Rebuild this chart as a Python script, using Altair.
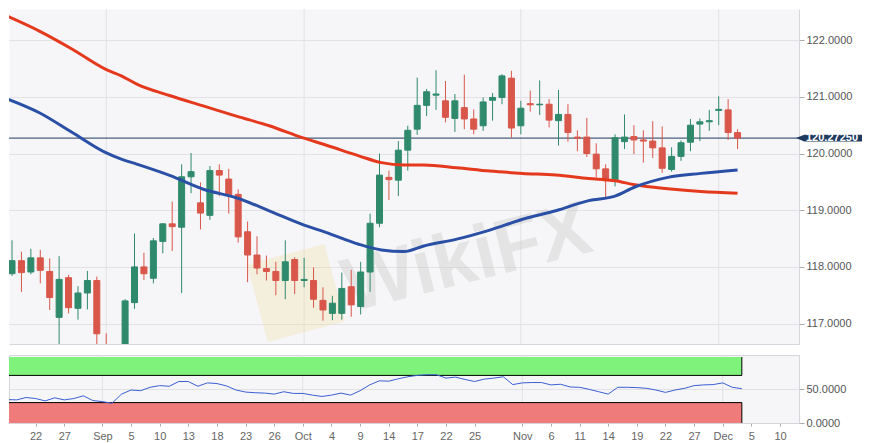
import json
import altair as alt
import pandas as pd

# ---------------- data ----------------
idx = list(range(78))
opens = [117.88, 118.11, 117.91, 118.16, 117.92, 117.11, 117.81, 117.27, 117.54, 117.76,
         116.60, 116.35, 116.45, 117.37, 118.00, 117.80, 118.45, 118.76, 118.70, 119.59,
         119.13, 118.91, 119.70, 119.55, 119.28, 118.62, 118.21, 117.97, 117.92, 117.76,
         118.13, 117.76, 117.76, 117.41, 117.18, 117.18, 117.65, 117.30, 117.91, 118.77,
         119.58, 119.53, 120.06, 120.43, 120.85, 121.03, 120.93, 120.62, 120.81, 120.61,
         120.49, 120.94, 120.99, 121.33, 120.49, 120.88, 120.86, 120.87, 120.58, 120.69,
         120.29, 120.29, 119.99, 119.73, 119.51, 120.21, 120.30, 120.24, 120.22, 120.10,
         119.72, 119.95, 120.20, 120.52, 120.56, 120.76, 120.77, 120.37]
highs = [118.47, 118.27, 118.32, 118.30, 118.15, 118.19, 117.86, 117.66, 117.93, 117.83,
         116.83, 116.55, 117.43, 118.59, 118.25, 118.51, 118.77, 119.15, 119.81, 120.01,
         119.49, 119.78, 119.81, 119.73, 119.37, 118.80, 118.54, 118.20, 118.09, 118.47,
         118.17, 118.16, 117.99, 117.64, 117.49, 117.90, 117.95, 118.09, 118.94, 120.00,
         119.70, 120.22, 120.49, 121.34, 121.14, 121.47, 121.28, 121.05, 121.39, 120.78,
         120.99, 121.07, 121.40, 121.46, 120.93, 121.11, 121.29, 120.96, 121.12, 120.87,
         120.41, 120.63, 120.18, 119.81, 120.34, 120.69, 120.50, 120.41, 120.57, 120.48,
         120.11, 120.23, 120.61, 120.62, 120.77, 121.01, 120.96, 120.43]
lows = [117.84, 117.56, 117.87, 117.71, 117.24, 116.55, 117.18, 117.07, 117.25, 116.50,
        116.20, 116.05, 116.40, 117.26, 117.77, 117.71, 118.24, 118.28, 117.54, 119.30,
        118.66, 118.83, 119.25, 118.94, 118.43, 117.73, 117.87, 117.76, 117.50, 117.43,
        117.52, 117.64, 117.28, 117.05, 117.06, 117.07, 117.12, 117.16, 117.56, 118.70,
        119.18, 119.25, 119.70, 120.33, 120.66, 120.77, 120.55, 120.38, 120.43, 120.34,
        120.40, 120.58, 120.87, 120.28, 120.34, 120.74, 120.68, 120.46, 120.14, 120.21,
        120.04, 119.94, 119.58, 119.23, 119.42, 120.08, 119.99, 119.84, 119.92, 119.66,
        119.68, 119.87, 120.04, 120.22, 120.40, 120.50, 120.24, 120.08]
closes = [118.11, 117.90, 118.16, 117.94, 117.46, 117.78, 117.28, 117.54, 117.76, 116.82,
          116.30, 116.40, 117.40, 118.00, 117.88, 118.46, 118.76, 118.71, 119.59, 119.68,
          118.95, 119.70, 119.62, 119.27, 118.53, 118.21, 117.98, 117.92, 117.76, 118.09,
          117.76, 117.78, 117.43, 117.24, 117.36, 117.62, 117.33, 117.91, 118.77, 119.62,
          119.54, 120.06, 120.41, 120.85, 121.09, 121.05, 120.64, 120.93, 120.61, 120.43,
          120.91, 120.99, 121.37, 120.45, 120.80, 120.86, 120.87, 120.59, 120.69, 120.37,
          120.27, 120.00, 119.73, 119.52, 120.28, 120.29, 120.24, 120.22, 120.10, 119.74,
          119.95, 120.19, 120.50, 120.56, 120.58, 120.78, 120.37, 120.2725]

# moving averages, sampled along the curves
ma_idx = [-0.6, 2.9, 6.4, 9.9, 11.6, 13.3, 16.8, 20.3, 23.8, 27.3, 30.8, 33.3, 36.8,
          39.2, 41.6, 43.7, 47.2, 50.7, 54.2, 57.7, 61.2, 64.0, 66.1, 69.6, 73.1, 77.0]
ma_blue = [120.97, 120.72, 120.37, 120.02, 119.90, 119.81, 119.61, 119.37, 119.22, 118.99,
           118.75, 118.61, 118.40, 118.30, 118.27, 118.37, 118.49, 118.65, 118.84, 118.99,
           119.17, 119.25, 119.41, 119.58, 119.65, 119.71]
ma_red = [122.43, 122.16, 121.84, 121.49, 121.37, 121.22, 121.02, 120.84, 120.66, 120.49,
          120.28, 120.15, 119.96, 119.84, 119.80, 119.80, 119.75, 119.69, 119.65, 119.62,
          119.56, 119.52, 119.45, 119.38, 119.33, 119.30]

# oscillator (lower panel)
rsi = [34.5, 34, 37.5, 36, 32.5, 37, 34, 36, 40, 33,
       31.5, 29, 42.5, 48.5, 47.5, 52.5, 55, 54, 61, 61,
       54, 59, 58, 54.5, 48.5, 45.5, 44.5, 44, 42.5, 46,
       43.5, 43.5, 41, 39, 41, 44, 41, 47.5, 56, 62,
       61.5, 65, 68, 70, 71, 71, 66, 67.5, 64, 61,
       64.5, 66, 68, 56.5, 59, 59.5, 59.5, 56, 57, 53,
       52.5, 49.5, 46, 42.5, 52.5, 52.5, 52, 51, 48.5, 45,
       48.5, 51, 55, 56, 56.5, 59, 52.5, 50.5]
ob_lo, ob_hi = 70, 97
os_lo, os_hi = 0, 30

# axis labels
tick_idx = [3, 6, 10, 13, 16, 19, 22, 25, 28, 31, 34, 37, 40, 43, 46, 49,
            54, 57, 60, 63, 66, 69, 72, 75, 78, 81]
tick_lab = ["22", "27", "Sep", "5", "10", "13", "18", "23", "26", "Oct", "4", "9",
            "14", "17", "22", "25", "Nov", "6", "11", "14", "19", "22", "27", "Dec", "5", "10"]
month_idx = [10, 31, 54, 75]
price_ticks = [117, 118, 119, 120, 121, 122]
osc_ticks = [0, 50]

# ---------------- styling ----------------
GREEN = "#2f8a6c"
RED = "#d9574a"
NAVY = "#1f3a5f"
BLUE = "#2a50a6"
MA_RED = "#e5391d"
BG = "#f6f6f8"
GRID = "#e2e2e6"
BORDER = "#d6d6dc"
FONT = "Arial, Liberation Sans, Helvetica, sans-serif"

X_DOM = [0.21, 82.99]
Y_DOM = [116.64, 122.55]
W = 790

xs = alt.Scale(domain=X_DOM, nice=False, zero=False)
ys = alt.Scale(domain=Y_DOM, nice=False, zero=False)
os_ = alt.Scale(domain=[0, 100], nice=False, zero=False)

main_x_axis = alt.Axis(labels=False, ticks=False, grid=False, domain=True,
                       domainColor=BORDER, title=None)
main_y_axis = alt.Axis(orient="right", values=price_ticks, format=".4f", grid=True,
                       gridColor=GRID, tickSize=5, tickColor="#aaaaaa", labelPadding=2,
                       labelFontSize=11, labelFont=FONT, labelColor="#555555",
                       domain=True, domainColor=BORDER, title=None)
osc_x_axis = alt.Axis(values=tick_idx,
                      labelExpr=f"{json.dumps(tick_lab)}[indexof({json.dumps(tick_idx)}, datum.value)]",
                      grid=False, tickSize=3, tickColor="#aaaaaa", labelPadding=4,
                      labelFontSize=11, labelFont=FONT, labelColor="#666666",
                      domain=True, domainColor=BORDER, title=None)
osc_y_axis = alt.Axis(orient="right", values=osc_ticks, format=".4f", grid=True,
                      gridColor=GRID, tickSize=5, tickColor="#aaaaaa", labelPadding=2,
                      labelFontSize=11, labelFont=FONT, labelColor="#555555",
                      domain=True, domainColor=BORDER, title=None)

candles = pd.DataFrame({"i": idx, "open": opens, "high": highs, "low": lows, "close": closes})
candles["dir"] = ["up" if c >= o else "down" for o, c in zip(opens, closes)]
candles["blo"] = [min(o, c) for o, c in zip(opens, closes)]
candles["bhi"] = [max(o, c) for o, c in zip(opens, closes)]
dir_scale = alt.Scale(domain=["up", "down"], range=[GREEN, RED])

months = pd.DataFrame({"i": month_idx})
ma_df = pd.DataFrame({"i": ma_idx, "blue": ma_blue, "red": ma_red})
last_df = pd.DataFrame({"price": [closes[-1]], "label": [f"{closes[-1]:.5f}"]})
one = pd.DataFrame({"t": ["WikiFX"]})

# ---------------- main panel ----------------
mgrid = alt.Chart(months).mark_rule(color=GRID, strokeWidth=1).encode(
    x=alt.X("i:Q", scale=xs, axis=main_x_axis))

logo = alt.Chart(one).mark_point(shape="square", filled=True, size=6400, angle=345,
                                 color="#f0dca0", opacity=0.3, strokeWidth=0).encode(
    x=alt.value(287), y=alt.value(284))

watermark = alt.Chart(one).mark_text(
    font=FONT, fontSize=76, fontWeight="bold", color="#c8c8c8", opacity=0.38,
    angle=346, align="center", baseline="middle"
).encode(x=alt.value(458), y=alt.value(250), text="t:N")

price_line = alt.Chart(last_df).mark_rule(color=NAVY, strokeWidth=1).encode(
    y=alt.Y("price:Q", scale=ys, axis=main_y_axis))

wicks = alt.Chart(candles).mark_rule(strokeWidth=1, clip=True).encode(
    x=alt.X("i:Q", scale=xs, axis=main_x_axis),
    y=alt.Y("low:Q", scale=ys, axis=main_y_axis),
    y2="high:Q",
    color=alt.Color("dir:N", scale=dir_scale, legend=None))

bodies = alt.Chart(candles).mark_bar(size=6, strokeWidth=1, clip=True).encode(
    x=alt.X("i:Q", scale=xs, axis=main_x_axis),
    y=alt.Y("blo:Q", scale=ys, axis=main_y_axis),
    y2="bhi:Q",
    color=alt.Color("dir:N", scale=dir_scale, legend=None),
    stroke=alt.Stroke("dir:N", scale=dir_scale, legend=None))

ma1 = alt.Chart(ma_df).mark_line(color=BLUE, strokeWidth=3, interpolate="monotone", clip=True).encode(
    x=alt.X("i:Q", scale=xs, axis=main_x_axis),
    y=alt.Y("blue:Q", scale=ys, axis=main_y_axis))
ma2 = alt.Chart(ma_df).mark_line(color=MA_RED, strokeWidth=3, interpolate="monotone", clip=True).encode(
    x=alt.X("i:Q", scale=xs, axis=main_x_axis),
    y=alt.Y("red:Q", scale=ys, axis=main_y_axis))

tag_path = "M -1 0 L -0.75 -0.103 L 1 -0.103 L 1 0.103 L -0.75 0.103 Z"
tag = alt.Chart(last_df).mark_point(shape=tag_path, filled=True, size=4356, color=NAVY,
                                    opacity=1, strokeWidth=0).encode(
    x=alt.value(W + 30),
    y=alt.Y("price:Q", scale=ys, axis=main_y_axis))
tag_text = alt.Chart(last_df).mark_text(font=FONT, fontSize=11, fontWeight="bold",
                                        color="white", align="center", baseline="middle").encode(
    x=alt.value(W + 33),
    y=alt.Y("price:Q", scale=ys, axis=main_y_axis),
    text="label:N")

main = alt.layer(mgrid, logo, watermark, price_line, wicks, bodies, ma2, ma1, tag, tag_text).properties(
    width=W, height=335, view=alt.ViewBackground(fill=BG, strokeOpacity=0))

# ---------------- oscillator panel ----------------
osc_df = pd.DataFrame({"i": idx, "v": rsi})
band_ob = pd.DataFrame({"x0": [X_DOM[0] - 1], "x1": [idx[-1]], "lo": [ob_lo], "hi": [ob_hi]})
band_os = pd.DataFrame({"x0": [X_DOM[0] - 1], "x1": [idx[-1]], "lo": [os_lo], "hi": [os_hi]})


def band_layers(df, fill, edge_field):
    rect = alt.Chart(df).mark_rect(color=fill, clip=True).encode(
        x=alt.X("x0:Q", scale=xs, axis=osc_x_axis), x2="x1:Q",
        y=alt.Y("lo:Q", scale=os_, axis=osc_y_axis), y2="hi:Q")
    hline = alt.Chart(df).mark_rule(color="black", strokeWidth=1, clip=True).encode(
        x=alt.X("x0:Q", scale=xs, axis=osc_x_axis), x2="x1:Q",
        y=alt.Y(f"{edge_field}:Q", scale=os_, axis=osc_y_axis))
    vline = alt.Chart(df).mark_rule(color="black", strokeWidth=1).encode(
        x=alt.X("x1:Q", scale=xs, axis=osc_x_axis),
        y=alt.Y("lo:Q", scale=os_, axis=osc_y_axis), y2="hi:Q")
    return [rect, hline, vline]


ogrid = alt.Chart(months).mark_rule(color=GRID, strokeWidth=1).encode(
    x=alt.X("i:Q", scale=xs, axis=osc_x_axis))
osc_line = alt.Chart(osc_df).mark_line(color="#3a5fd4", strokeWidth=1, clip=True).encode(
    x=alt.X("i:Q", scale=xs, axis=osc_x_axis),
    y=alt.Y("v:Q", scale=os_, axis=osc_y_axis))

osc = alt.layer(ogrid, *band_layers(band_ob, "#7ff27c", "lo"),
                *band_layers(band_os, "#f07b7b", "hi"), osc_line).properties(
    width=W, height=68, view=alt.ViewBackground(fill=BG, stroke=BORDER))

chart = alt.vconcat(main, osc, spacing=9).properties(
    padding={"left": 0, "top": 0, "right": 0, "bottom": 0},
    background="white"
).configure_view(strokeWidth=1)

chart.save("out.html", embed_options={"renderer": "svg", "actions": False})
